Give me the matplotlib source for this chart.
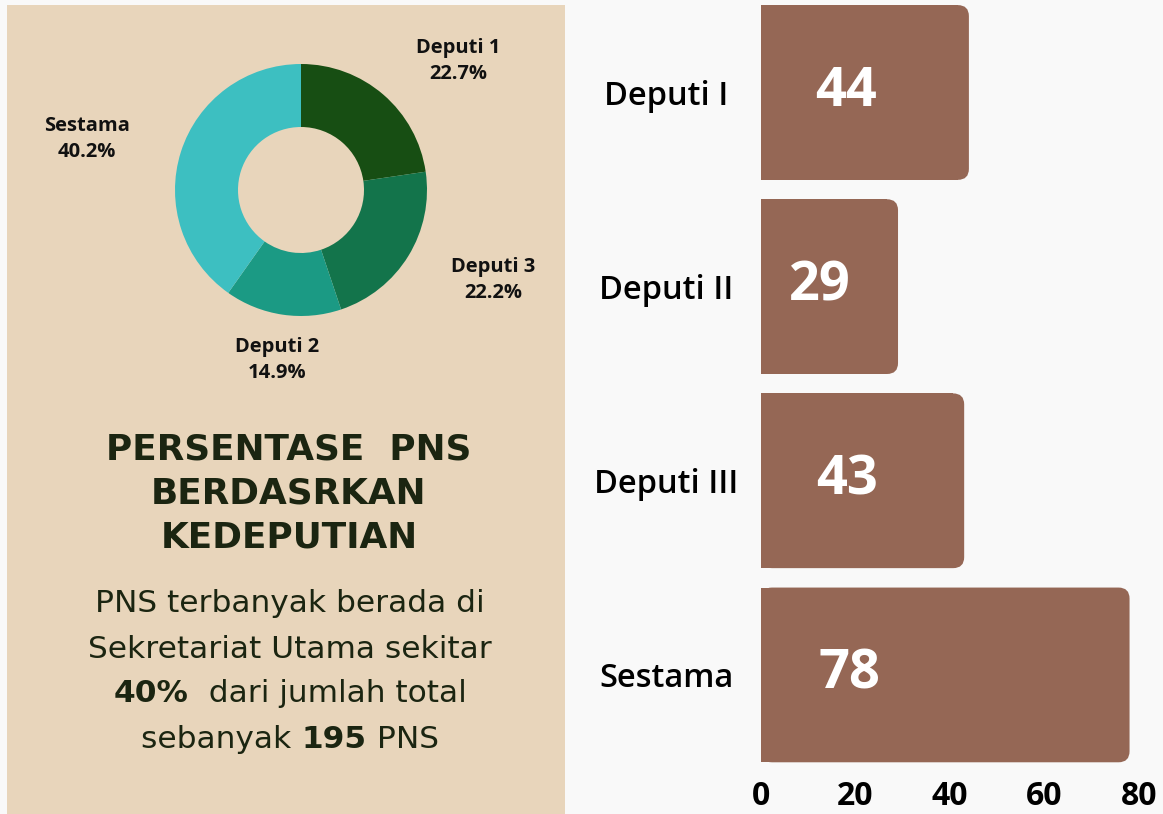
"""
Persentase PNS berdasarkan kedeputian: donut + horizontal bar.
"""

import matplotlib
matplotlib.use("Agg")
import matplotlib.pyplot as plt
from matplotlib.patches import Rectangle, FancyBboxPatch

# --- data ---
CATEGORIES = ["Deputi I", "Deputi II", "Deputi III", "Sestama"]
PNS_COUNT = [44, 29, 43, 78]

DONUT_LABELS = ["Deputi 1", "Deputi 3", "Deputi 2", "Sestama"]
DONUT_VALUES = [44, 43, 29, 78]

X_TICKS = [0, 20, 40, 60, 80]

TITLE_LINES = ["PERSENTASE  PNS", "BERDASRKAN", "KEDEPUTIAN"]
BODY_LINES = [
    [("PNS terbanyak berada di", "normal")],
    [("Sekretariat Utama sekitar", "normal")],
    [("40%", "bold"), ("  dari jumlah total", "normal")],
    [("sebanyak ", "normal"), ("195", "bold"), (" PNS", "normal")],
]

# --- style ---
BG = "#f9f9f9"
PANEL = "#e8d5bb"
BAR = "#956755"
DONUT_COLORS = ["#174e13", "#13744b", "#1b9a84", "#3dbfc1"]
TEXT_DARK = "#1b2511"

W, H = 1163, 814
fig = plt.figure(figsize=(W / 100, H / 100), dpi=100, facecolor=BG)

def fx(px):
    return px / W

def fy(py):
    # pixel from top -> figure fraction
    return 1 - py / H

# beige panel (behind everything)
fig.patches.append(Rectangle((fx(7), 0), fx(558), fy(5), transform=fig.transFigure,
                             facecolor=PANEL, edgecolor="none", zorder=-10))

# --- donut ---
cx, cy, half = 301, 190, 150
ax_d = fig.add_axes([fx(cx - half), fy(cy + half), fx(2 * half), 2 * half / H])
ax_d.set_facecolor("none")
ax_d.set_zorder(5)
ax_d.pie(DONUT_VALUES, colors=DONUT_COLORS, startangle=90, counterclock=False,
         radius=1, wedgeprops=dict(width=0.5, edgecolor="none"))
lim = half / 126
ax_d.set_xlim(-lim, lim)
ax_d.set_ylim(-lim, lim)
ax_d.axis("off")

total = sum(DONUT_VALUES)
label_pos = [(1.246, 1.024), (1.524, -0.714), (-0.19, -1.349), (-1.698, 0.405)]
for name, v, (lx, ly) in zip(DONUT_LABELS, DONUT_VALUES, label_pos):
    ax_d.text(lx, ly, f"{name}\n{100 * v / total:.1f}%", ha="center", va="center",
              fontsize=14.5, fontweight="bold", family="Open Sans",
              color="#111111", linespacing=1.45, clip_on=False)

# --- title ---
for i, line in enumerate(TITLE_LINES):
    fig.text(fx(289), fy(450 + 44 * i), line, ha="center", va="center",
             fontsize=25.8, fontweight="bold", family="DejaVu Sans", color=TEXT_DARK)

# --- body text with bold parts ---
renderer = fig.canvas.get_renderer()
for i, parts in enumerate(BODY_LINES):
    y = fy(604 + 45 * i)
    texts = [fig.text(0, y, s, ha="left", va="center", fontsize=22.5, fontweight=w,
                      family="DejaVu Sans", color=TEXT_DARK) for s, w in parts]
    widths = [t.get_window_extent(renderer).width for t in texts]
    x = 290 - sum(widths) / 2
    for t, wd in zip(texts, widths):
        t.set_x(fx(x))
        x += wd

# --- bar chart ---
left, right = 761, 1139
top, bottom = -4.6, 772
ax_b = fig.add_axes([fx(left), fy(bottom), fx(right - left), (bottom - top) / H])
ax_b.set_facecolor("none")
bars = ax_b.barh(CATEGORIES, PNS_COUNT, height=0.9, color=BAR)
ax_b.set_xlim(0, 80)
ax_b.set_ylim(len(CATEGORIES) - 0.5, -0.5)

px_x = (right - left) / 80
px_y = (bottom - top) / len(CATEGORIES)
r = 11 / px_x
aspect = (11 / px_y) / r
for b in bars:
    x0, y0, w, h = b.get_x(), b.get_y(), b.get_width(), b.get_height()
    b.set_width(w - r)
    ax_b.add_patch(FancyBboxPatch((x0, y0), w, h,
                                  boxstyle=f"round,pad=0,rounding_size={r}",
                                  mutation_aspect=aspect, facecolor=BAR,
                                  edgecolor="none"))

value_x = [18, 12.5, 18.3, 18.7]
for i, (v, lx) in enumerate(zip(PNS_COUNT, value_x)):
    ax_b.text(lx, i, str(v), ha="center", va="center", color="white",
              fontsize=39, fontweight="bold", family="Open Sans")

for s in ax_b.spines.values():
    s.set_visible(False)
ax_b.set_xticks(X_TICKS)
ax_b.set_xticklabels([str(t) for t in X_TICKS], fontsize=23, fontweight="bold",
                     family="Open Sans")
ax_b.set_yticks(range(len(CATEGORIES)))
ax_b.set_yticklabels(CATEGORIES, fontsize=23.5, fontweight="semibold",
                     family="Open Sans", ha="center")
ax_b.tick_params(axis="x", length=0, pad=6)
ax_b.tick_params(axis="y", length=0, pad=68)

fig.savefig("out.png", dpi=100, facecolor=BG)
